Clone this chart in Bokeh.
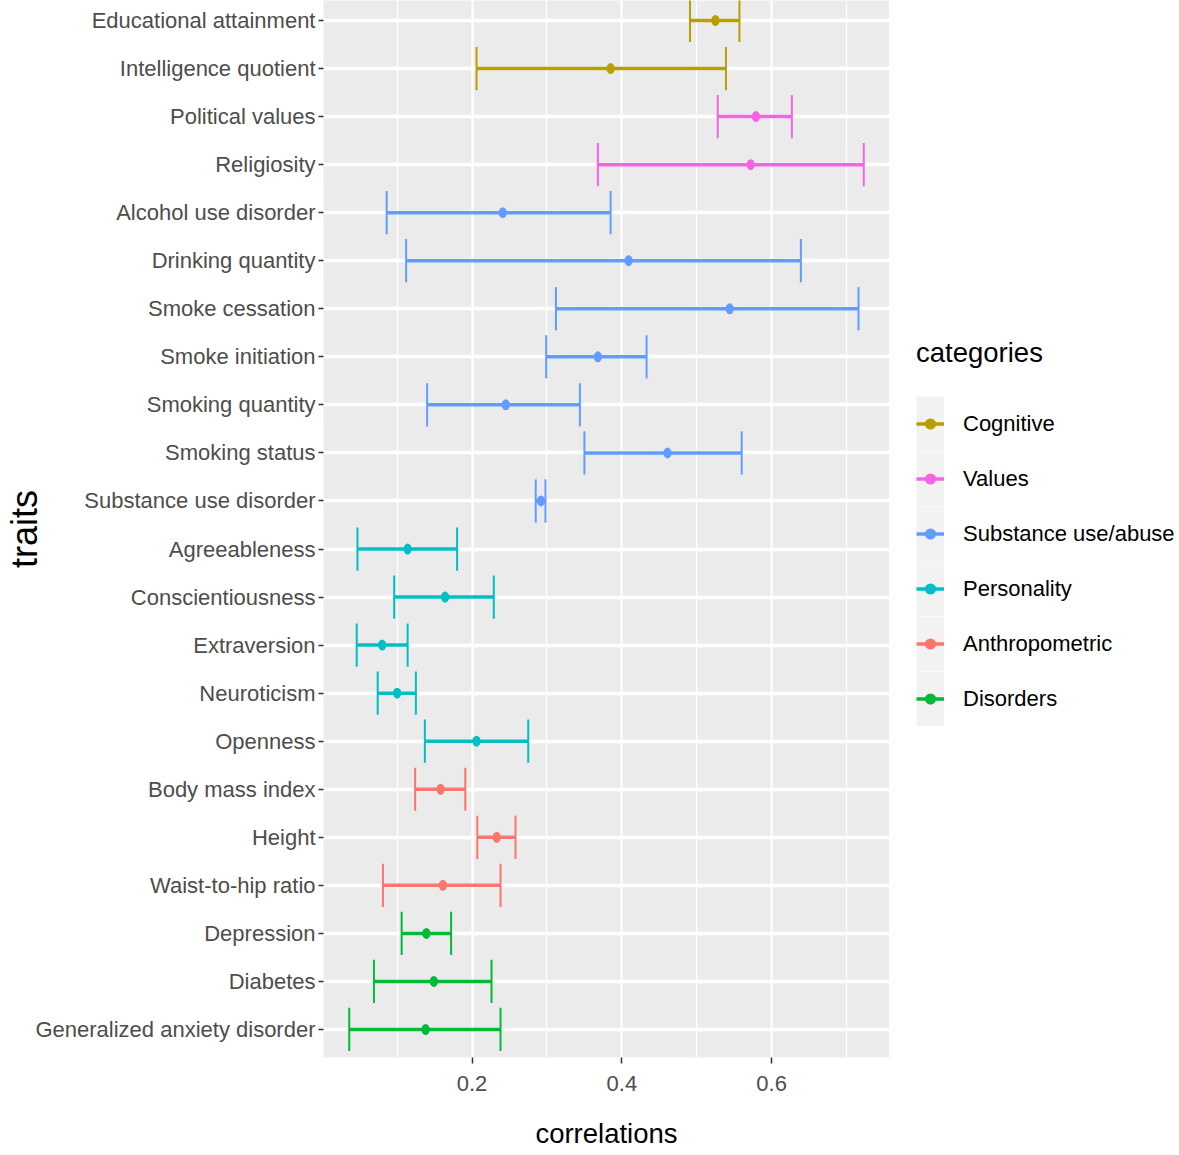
from bokeh.plotting import figure
from bokeh.layouts import row
from bokeh.models import ColumnDataSource, Range1d, FixedTicker, Legend, LegendItem
from bokeh.embed import file_html
from bokeh.resources import INLINE

# ---------------- data ----------------
traits = [
    "Educational attainment", "Intelligence quotient", "Political values", "Religiosity",
    "Alcohol use disorder", "Drinking quantity", "Smoke cessation", "Smoke initiation",
    "Smoking quantity", "Smoking status", "Substance use disorder", "Agreeableness",
    "Conscientiousness", "Extraversion", "Neuroticism", "Openness", "Body mass index",
    "Height", "Waist-to-hip ratio", "Depression", "Diabetes", "Generalized anxiety disorder",
]
trait_category = [
    "Cognitive", "Cognitive", "Values", "Values",
    "Substance use/abuse", "Substance use/abuse", "Substance use/abuse", "Substance use/abuse",
    "Substance use/abuse", "Substance use/abuse", "Substance use/abuse", "Personality",
    "Personality", "Personality", "Personality", "Personality", "Anthropometric",
    "Anthropometric", "Anthropometric", "Disorders", "Disorders", "Disorders",
]
correlation = [0.525, 0.385, 0.579, 0.572, 0.241, 0.409, 0.544, 0.368, 0.245, 0.461, 0.292,
               0.114, 0.164, 0.080, 0.100, 0.206, 0.158, 0.233, 0.161, 0.139, 0.149, 0.138]
ci_lower = [0.491, 0.206, 0.528, 0.368, 0.086, 0.112, 0.312, 0.299, 0.140, 0.350, 0.285,
            0.047, 0.096, 0.046, 0.074, 0.137, 0.124, 0.207, 0.081, 0.106, 0.069, 0.036]
ci_upper = [0.557, 0.539, 0.627, 0.723, 0.385, 0.639, 0.716, 0.433, 0.344, 0.560, 0.298,
            0.180, 0.229, 0.114, 0.125, 0.275, 0.191, 0.258, 0.238, 0.172, 0.226, 0.238]
category_order = ["Cognitive", "Values", "Substance use/abuse", "Personality",
                  "Anthropometric", "Disorders"]
category_colors = ["#B79F00", "#F564E3", "#619CFF", "#00BFC4", "#F8766D", "#00BA38"]
x_ticks = [0.2, 0.4, 0.6]
x_minor_ticks = [0.1, 0.3, 0.5, 0.7]
x_title = "correlations"
y_title = "traits"
legend_title = "categories"

# ---------------- style ----------------
FONT = "Liberation Sans"
TICK_PX = "22px"
TITLE_PX = "27.5px"
H = 1155

span = max(ci_upper) - min(ci_lower)
x_range = Range1d(min(ci_lower) - 0.05 * span, max(ci_upper) + 0.05 * span)
y_range = Range1d(start=len(traits) - 1 + 0.583, end=-0.416)

p = figure(width=889, height=H, x_range=x_range, y_range=y_range,
           output_backend="svg", toolbar_location=None, title=None,
           min_border_left=323, min_border_right=0, min_border_top=0, min_border_bottom=98)
p.background_fill_color = "#EBEBEB"
p.border_fill_color = "white"
p.outline_line_color = None

# axes / grids
yt = FixedTicker(ticks=list(range(len(traits))))
p.yaxis.ticker = yt
p.ygrid.ticker = yt
p.yaxis.major_label_overrides = {i: t for i, t in enumerate(traits)}
xt = FixedTicker(ticks=x_ticks, minor_ticks=x_minor_ticks)
p.xaxis.ticker = xt
p.xgrid.ticker = xt

for ax in (p.xaxis, p.yaxis):
    ax.axis_line_color = None
    ax.major_tick_in = 0
    ax.minor_tick_in = 0
    ax.minor_tick_out = 0
    ax.major_tick_line_color = "#333333"
    ax.major_label_text_font = FONT
    ax.major_label_text_font_size = TICK_PX
    ax.major_label_text_color = "#4D4D4D"
    ax.axis_label_text_font = FONT
    ax.axis_label_text_font_style = "normal"
    ax.axis_label_text_color = "black"

p.yaxis.major_tick_out = 5
p.yaxis.major_tick_line_width = 1.5
p.yaxis.major_label_standoff = 3
p.yaxis.axis_label = y_title
p.yaxis.axis_label_text_font_size = "36px"
p.yaxis.axis_label_standoff = -13

p.xaxis.major_tick_out = 6
p.xaxis.major_tick_line_width = 1.5
p.xaxis.major_label_standoff = 12
p.xaxis.axis_label = x_title
p.xaxis.axis_label_text_font_size = TITLE_PX
p.xaxis.axis_label_standoff = 24

p.ygrid.grid_line_color = "white"
p.ygrid.grid_line_width = 3.5
p.xgrid.grid_line_color = "white"
p.xgrid.grid_line_width = 2.2
p.xgrid.minor_grid_line_color = "white"
p.xgrid.minor_grid_line_width = 1.3

# legend panel: a separate blank figure to the right whose view shows no data
lp = figure(width=1179 - 889, height=H, x_range=Range1d(5, 6), y_range=Range1d(50, 51),
            output_backend="svg", toolbar_location=None, title=None,
            x_axis_type=None, y_axis_type=None,
            min_border_left=0, min_border_right=0, min_border_top=0, min_border_bottom=0)
lp.background_fill_color = "white"
lp.border_fill_color = "white"
lp.outline_line_color = None
lp.grid.visible = False

items = []
for cat, col in zip(category_order, category_colors):
    idx = [i for i, c in enumerate(trait_category) if c == cat]
    src = ColumnDataSource(dict(
        y=idx,
        y0=[i - 0.45 for i in idx],
        y1=[i + 0.45 for i in idx],
        lo=[ci_lower[i] for i in idx],
        hi=[ci_upper[i] for i in idx],
        r=[correlation[i] for i in idx],
    ))
    p.segment(x0="lo", y0="y", x1="hi", y1="y", source=src, line_color=col, line_width=3.5)
    p.segment(x0="lo", y0="y0", x1="lo", y1="y1", source=src, line_color=col, line_width=2)
    p.segment(x0="hi", y0="y0", x1="hi", y1="y1", source=src, line_color=col, line_width=2)
    p.ellipse(x="r", y="y", width=8, height=11, width_units="screen", height_units="screen",
              source=src, fill_color=col, line_color=None)
    p.scatter(x="r", y="y", size=8, source=src, fill_color=col, line_color=None)

    # legend-key renderers (same data, outside the legend panel's view)
    key_bg = lp.segment(x0="lo", y0="y", x1="lo", y1="y", source=src,
                        line_color="#F2F2F2", line_width=55)
    key_line = lp.segment(x0="lo", y0="y", x1="hi", y1="y", source=src,
                          line_color=col, line_width=3.5)
    key_dot = lp.scatter(x="r", y="y", size=8, source=src, fill_color=col, line_color=None)
    items.append(LegendItem(label=cat, renderers=[key_bg, key_line, key_dot]))

legend = Legend(items=items, location=(27, 331), orientation="vertical",
                glyph_width=28, glyph_height=55, spacing=0, padding=2, margin=0,
                label_standoff=19, label_text_font=FONT, label_text_font_size=TICK_PX,
                label_text_color="black", label_height=55,
                title=legend_title, title_text_font=FONT, title_text_font_size=TITLE_PX,
                title_text_font_style="normal", title_text_color="black", title_standoff=27,
                background_fill_alpha=0, border_line_color=None)
lp.add_layout(legend)

layout = row(p, lp)
open("out.html", "w").write(file_html(layout, INLINE))
